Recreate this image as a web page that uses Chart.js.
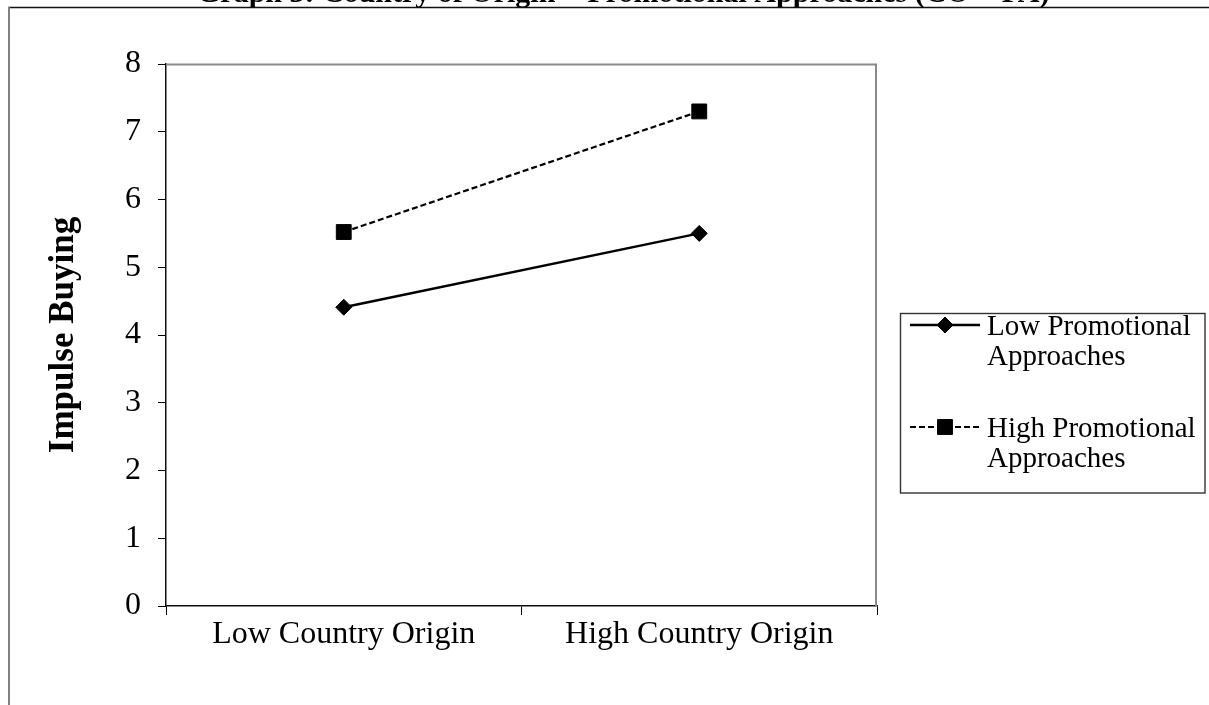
<!DOCTYPE html>
<html>
<head>
<meta charset="utf-8">
<script src="https://cdn.jsdelivr.net/npm/chart.js@4.4.1/dist/chart.umd.min.js"></script>
<style>
  html, body { margin: 0; padding: 0; background: #ffffff; overflow: hidden; }
  #wrap { position: absolute; left: 0; top: 0; width: 1209px; height: 705px; }
</style>
</head>
<body>
<div id="wrap"><canvas id="c" width="1209" height="705"></canvas></div>
<script>
// Interaction of country of origin and promotional approaches on impulse buying
const categories = ['Low Country Origin', 'High Country Origin'];
const lowPromo = [4.41, 5.50];
const highPromo = [5.52, 7.30];
const seriesNames = ['Low Promotional Approaches', 'High Promotional Approaches'];
const legendLines = [['Low Promotional', 'Approaches'], ['High Promotional', 'Approaches']];
const yTicks = [0, 1, 2, 3, 4, 5, 6, 7, 8];
const chartTitle = 'Graph 3: Country of Origin \u00d7 Promotional Approaches (CO \u00d7 PA)';
const yTitle = 'Impulse Buying';

const SERIF = '"Liberation Serif", "Times New Roman", serif';

// Outer frame lines and the heading above the plot
const framePlugin = {
  id: 'frame',
  beforeDraw(chart) {
    const ctx = chart.ctx;
    ctx.save();
    ctx.fillStyle = '#000';
    ctx.font = 'bold 30px ' + SERIF;
    ctx.textAlign = 'left';
    ctx.textBaseline = 'alphabetic';
    ctx.fillText(chartTitle, 197, 1.5);

    ctx.lineWidth = 1.6;
    ctx.strokeStyle = '#111';
    ctx.beginPath();
    ctx.moveTo(8, 7.5);
    ctx.lineTo(chart.width, 7.5);
    ctx.stroke();

    ctx.lineWidth = 2;
    ctx.strokeStyle = '#808080';
    ctx.beginPath();
    ctx.moveTo(9, 7);
    ctx.lineTo(9, chart.height);
    ctx.stroke();
    ctx.restore();
  }
};

// Gray plot-area border on the top and right sides
const plotBorderPlugin = {
  id: 'plotBorder',
  beforeDatasetsDraw(chart) {
    const { ctx, chartArea: a } = chart;
    ctx.save();
    ctx.strokeStyle = '#8a8a8a';
    ctx.lineWidth = 2;
    ctx.beginPath();
    ctx.moveTo(a.left, a.top + 0.5);
    ctx.lineTo(a.right - 1, a.top + 0.5);
    ctx.lineTo(a.right - 1, a.bottom);
    ctx.stroke();
    ctx.restore();
  }
};

function drawMarker(ctx, ds, x, y) {
  if (Chart.helpers && Chart.helpers.drawPoint) {
    ctx.fillStyle = ds.pointBackgroundColor;
    ctx.strokeStyle = ds.pointBorderColor;
    ctx.lineWidth = ds.pointBorderWidth;
    ctx.setLineDash([]);
    Chart.helpers.drawPoint(ctx, {
      pointStyle: ds.pointStyle, radius: ds.pointRadius, rotation: 0, borderWidth: ds.pointBorderWidth
    }, x, y);
    return;
  }
  const r = ds.pointRadius;
  ctx.fillStyle = ds.pointBackgroundColor;
  ctx.beginPath();
  if (ds.pointStyle === 'rect') {
    const s = Math.SQRT1_2 * r;
    ctx.rect(x - s, y - s, 2 * s, 2 * s);
  } else {
    ctx.moveTo(x, y - r); ctx.lineTo(x + r, y); ctx.lineTo(x, y + r); ctx.lineTo(x - r, y); ctx.closePath();
  }
  ctx.fill();
}

// Boxed legend to the right of the plot
const legendBoxPlugin = {
  id: 'legendBox',
  afterDraw(chart) {
    const ctx = chart.ctx;
    const box = { left: 900.5, top: 313.5, right: 1205, bottom: 493 };
    ctx.save();
    ctx.strokeStyle = '#333';
    ctx.lineWidth = 1.4;
    ctx.strokeRect(box.left, box.top, box.right - box.left, box.bottom - box.top);

    const rowLineY = [325, 427];
    const baselines = [[335, 364.5], [437, 466.5]];
    chart.data.datasets.forEach((ds, i) => {
      const ly = rowLineY[i];
      ctx.strokeStyle = ds.borderColor;
      ctx.lineWidth = ds.borderWidth;
      ctx.setLineDash(ds.borderDash || []);
      ctx.beginPath();
      ctx.moveTo(910, ly);
      ctx.lineTo(980, ly);
      ctx.stroke();
      ctx.setLineDash([]);
      drawMarker(ctx, ds, 945, ly);

      ctx.fillStyle = '#000';
      ctx.font = '29px ' + SERIF;
      ctx.textAlign = 'left';
      ctx.textBaseline = 'alphabetic';
      legendLines[i].forEach((t, k) => ctx.fillText(t, 987, baselines[i][k]));
    });
    ctx.restore();
  }
};

new Chart(document.getElementById('c'), {
  type: 'line',
  data: {
    labels: categories,
    datasets: [
      {
        label: seriesNames[0],
        data: lowPromo,
        borderColor: '#000',
        backgroundColor: '#000',
        borderWidth: 2.5,
        pointStyle: 'rectRot',
        pointRadius: 8,
        pointBorderWidth: 1,
        pointBackgroundColor: '#000',
        pointBorderColor: '#000',
        tension: 0,
        fill: false
      },
      {
        label: seriesNames[1],
        data: highPromo,
        borderColor: '#000',
        backgroundColor: '#000',
        borderWidth: 2.2,
        borderDash: [6, 3],
        pointStyle: 'rect',
        pointRadius: 10.5,
        pointBorderWidth: 1,
        pointBackgroundColor: '#000',
        pointBorderColor: '#000',
        tension: 0,
        fill: false
      }
    ]
  },
  options: {
    responsive: false,
    animation: false,
    devicePixelRatio: 1,
    events: [],
    layout: { padding: { top: 64, right: 332, bottom: 0, left: 0 } },
    plugins: {
      legend: { display: false },
      title: { display: false },
      tooltip: { enabled: false }
    },
    scales: {
      x: {
        type: 'category',
        offset: true,
        grid: {
          offset: true,
          drawOnChartArea: false,
          drawTicks: true,
          tickLength: 9,
          color: '#000',
          lineWidth: 1
        },
        border: { display: true, color: '#111', width: 1.5 },
        ticks: {
          color: '#000',
          font: { family: SERIF, size: 32 },
          padding: 0,
          maxRotation: 0,
          autoSkip: false
        },
        afterFit(scale) { scale.height = 99; }
      },
      y: {
        min: 0,
        max: 8,
        afterBuildTicks(scale) { scale.ticks = yTicks.map(v => ({ value: v })); },
        grid: {
          drawOnChartArea: false,
          drawTicks: true,
          tickLength: 8,
          color: '#000',
          lineWidth: 1
        },
        border: { display: true, color: '#111', width: 1.5 },
        ticks: {
          color: '#000',
          font: { family: SERIF, size: 32 },
          padding: 17
        },
        title: {
          display: true,
          text: yTitle,
          color: '#000',
          font: { family: SERIF, size: 35, weight: 'bold' },
          padding: { top: 43, bottom: 0 }
        },
        afterFit(scale) { scale.width = 166; }
      }
    }
  },
  plugins: [framePlugin, plotBorderPlugin, legendBoxPlugin]
});
</script>
</body>
</html>
